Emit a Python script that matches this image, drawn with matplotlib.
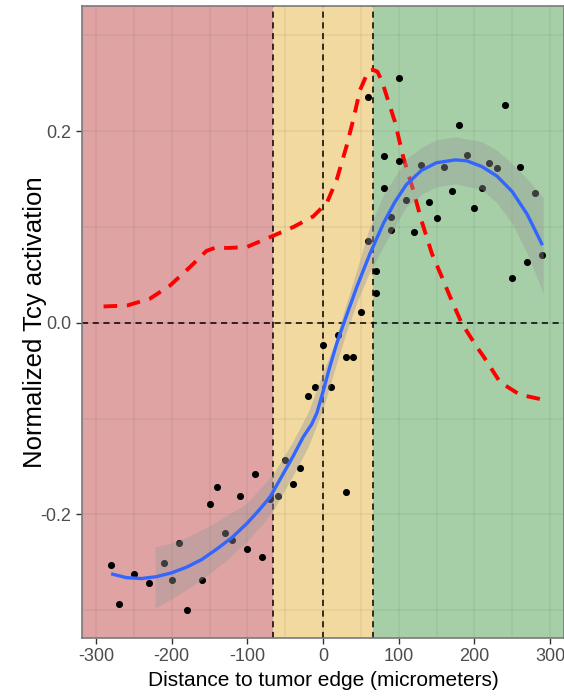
import numpy as np
import matplotlib
matplotlib.use("Agg")
import matplotlib.pyplot as plt

plt.rcParams['font.family'] = ['Liberation Sans Narrow', 'Liberation Sans', 'DejaVu Sans']

# zone boundaries (micrometers)
zone_edges = [-318.5, -66, 66, 318.5]
zone_colors = ['#e0a3a4', '#f1d9a0', '#a6cfa7']

# measured points
dist = [-280, -270, -250, -230, -210, -200, -190, -180, -160, -150, -140, -130,
        -120, -110, -100, -90, -80, -70, -60, -50, -40, -30, -20, -10, 0, 10,
        20, 30, 30, 40, 50, 60, 60, 70, 70, 80, 80, 90, 90, 100, 100, 110, 120,
        130, 140, 150, 160, 170, 180, 190, 200, 210, 220, 230, 240, 250, 260,
        270, 280, 290]
act = [-0.253, -0.294, -0.262, -0.272, -0.251, -0.269, -0.230, -0.300, -0.269,
       -0.189, -0.171, -0.219, -0.227, -0.181, -0.236, -0.158, -0.245, -0.184,
       -0.181, -0.143, -0.168, -0.152, -0.076, -0.067, -0.023, -0.067, -0.013,
       -0.036, -0.177, -0.036, 0.011, 0.085, 0.236, 0.031, 0.054, 0.141, 0.174,
       0.097, 0.110, 0.169, 0.255, 0.128, 0.095, 0.165, 0.126, 0.109, 0.163,
       0.137, 0.206, 0.175, 0.120, 0.141, 0.167, 0.161, 0.227, 0.047, 0.163,
       0.063, 0.135, 0.071]

# smooth fit
fit_x = [-280, -260, -240, -220, -200, -180, -160, -140, -120, -100, -85, -70,
         -55, -40, -26, -15, -8, 0, 9, 18, 29, 45, 62, 80, 95, 110, 130, 150,
         175, 190, 210, 230, 250, 270, 290]
fit_y = [-0.262, -0.266, -0.267, -0.265, -0.261, -0.255, -0.247, -0.236, -0.224,
         -0.209, -0.196, -0.182, -0.161, -0.140, -0.119, -0.106, -0.094, -0.072,
         -0.046, -0.022, 0.003, 0.038, 0.072, 0.104, 0.126, 0.144, 0.159, 0.167,
         0.170, 0.169, 0.163, 0.153, 0.137, 0.113, 0.081]

# confidence band
band_x = [-222, -200, -175, -150, -125, -100, -80, -66, -40, -20, 0, 15, 30, 45,
          60, 80, 110, 130, 150, 175, 210, 230, 250, 270, 291]
band_lo = [-0.298, -0.288, -0.276, -0.262, -0.246, -0.228, -0.210, -0.196,
           -0.160, -0.130, -0.090, -0.050, -0.012, 0.022, 0.050, 0.080, 0.121,
           0.134, 0.142, 0.145, 0.139, 0.125, 0.104, 0.072, 0.031]
band_hi = [-0.234, -0.230, -0.222, -0.212, -0.200, -0.188, -0.170, -0.158,
           -0.124, -0.094, -0.052, -0.022, 0.018, 0.056, 0.096, 0.134, 0.171,
           0.183, 0.191, 0.194, 0.189, 0.180, 0.166, 0.150, 0.131]

# red dashed profile
prof_x = [-290, -259, -229, -202, -176, -154, -140, -127, -101, -74, -39, -13,
          5, 18, 31, 40, 49, 60, 66, 72, 78, 86, 95, 106, 119, 130, 144, 157,
          168, 183, 203, 212, 234, 260, 289]
prof_y = [0.017, 0.018, 0.025, 0.039, 0.058, 0.075, 0.079, 0.078, 0.079, 0.088,
          0.100, 0.111, 0.125, 0.149, 0.184, 0.212, 0.243, 0.263, 0.264, 0.262,
          0.252, 0.232, 0.210, 0.173, 0.139, 0.107, 0.072, 0.048, 0.027, 0.000,
          -0.025, -0.035, -0.062, -0.075, -0.080]

fig = plt.figure(figsize=(5.64, 6.98), dpi=100)
ax = fig.add_axes([0.1454, 0.086, 0.8546, 0.9054])

for i in range(3):
    ax.axvspan(zone_edges[i], zone_edges[i + 1], color=zone_colors[i], zorder=0, lw=0)

for gx in np.arange(-300, 301, 50):
    ax.axvline(gx, color='k', alpha=0.05, lw=1.2, zorder=1)
for gy in np.arange(-0.3, 0.31, 0.1):
    ax.axhline(gy, color='k', alpha=0.05, lw=1.2, zorder=1)

ax.axhline(0, color='black', ls=(0, (4, 3)), lw=1.1, zorder=2)
for vx in [-66, 0, 66]:
    ax.axvline(vx, color='black', ls=(0, (4, 3)), lw=1.1, zorder=2)

ax.plot(prof_x, prof_y, color='red', ls=(0, (3.5, 2.5)), lw=2.8, zorder=3)
ax.scatter(dist, act, s=26, color='black', zorder=4, linewidths=0)
ax.fill_between(band_x, band_lo, band_hi, color='#999999', alpha=0.4, lw=0, zorder=5)
ax.plot(fit_x, fit_y, color='#3366ff', lw=2.4, zorder=6, solid_capstyle='butt')

ax.set_xlim(-318.5, 318.5)
ax.set_ylim(-0.329, 0.3306)
ax.set_xticks([-300, -200, -100, 0, 100, 200, 300])
ax.set_xticklabels(['-300', '-200', '-100', '0', '100', '200', '300'])
ax.set_yticks([-0.2, 0.0, 0.2])
ax.set_yticklabels(['-0.2', '0.0', '0.2'])
ax.tick_params(colors='#333333', labelcolor='#4d4d4d', labelsize=13, length=4, width=1)

for s in ax.spines.values():
    s.set_color('#7a7a7a')
    s.set_linewidth(1.2)

ax.set_xlabel('Distance to tumor edge (micrometers)', fontsize=15)
ax.xaxis.set_label_coords(0.5, -0.052)
ax.set_ylabel('Normalized Tcy activation', fontsize=18.5)
ax.yaxis.label.set_verticalalignment('center')
ax.yaxis.set_label_coords(-0.0965, 0.5)

fig.savefig('out.png', dpi=100)
